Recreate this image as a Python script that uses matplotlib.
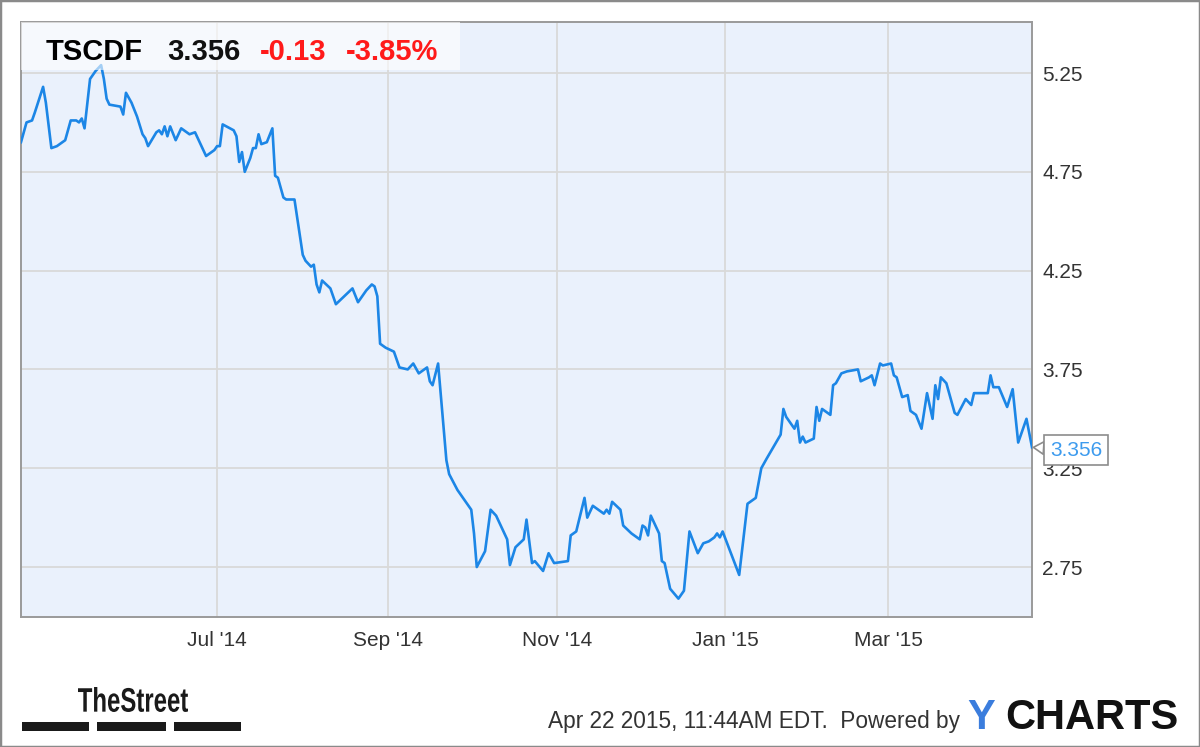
import matplotlib
matplotlib.use("Agg")
import matplotlib.pyplot as plt
import matplotlib.dates as mdates
import pandas as pd
from matplotlib.font_manager import FontProperties
from matplotlib.patches import PathPatch, Rectangle
from matplotlib.textpath import TextPath
from matplotlib.ticker import FuncFormatter
from matplotlib.transforms import Affine2D

# TSCDF daily close
dates = [
    "2014-04-21", "2014-04-23", "2014-04-25", "2014-04-26", "2014-04-29", "2014-04-30",
    "2014-05-02", "2014-05-04", "2014-05-07", "2014-05-09", "2014-05-11", "2014-05-12",
    "2014-05-13", "2014-05-14", "2014-05-16", "2014-05-18", "2014-05-20", "2014-05-21",
    "2014-05-22", "2014-05-23", "2014-05-27", "2014-05-28", "2014-05-29", "2014-05-31",
    "2014-06-02", "2014-06-04", "2014-06-05", "2014-06-06", "2014-06-09", "2014-06-10",
    "2014-06-11", "2014-06-12", "2014-06-13", "2014-06-14", "2014-06-16", "2014-06-18",
    "2014-06-21", "2014-06-23", "2014-06-25", "2014-06-27", "2014-06-30", "2014-07-01",
    "2014-07-02", "2014-07-03", "2014-07-07", "2014-07-08", "2014-07-09", "2014-07-10",
    "2014-07-11", "2014-07-13", "2014-07-14", "2014-07-15", "2014-07-16", "2014-07-17",
    "2014-07-19", "2014-07-21", "2014-07-22", "2014-07-23", "2014-07-25", "2014-07-26",
    "2014-07-29", "2014-08-01", "2014-08-02", "2014-08-04", "2014-08-05", "2014-08-06",
    "2014-08-07", "2014-08-08", "2014-08-11", "2014-08-13", "2014-08-16", "2014-08-19",
    "2014-08-21", "2014-08-24", "2014-08-26", "2014-08-27", "2014-08-28", "2014-08-29",
    "2014-08-31", "2014-09-03", "2014-09-05", "2014-09-08", "2014-09-10", "2014-09-12",
    "2014-09-15", "2014-09-16", "2014-09-17", "2014-09-19", "2014-09-22", "2014-09-23",
    "2014-09-26", "2014-09-29", "2014-10-01", "2014-10-02", "2014-10-03", "2014-10-06",
    "2014-10-08", "2014-10-10", "2014-10-13", "2014-10-14", "2014-10-15", "2014-10-17",
    "2014-10-20", "2014-10-21", "2014-10-23", "2014-10-24", "2014-10-27", "2014-10-29",
    "2014-10-31", "2014-11-05", "2014-11-06", "2014-11-08", "2014-11-11", "2014-11-12",
    "2014-11-14", "2014-11-17", "2014-11-18", "2014-11-19", "2014-11-20", "2014-11-21",
    "2014-11-24", "2014-11-25", "2014-11-28", "2014-12-01", "2014-12-02", "2014-12-03",
    "2014-12-04", "2014-12-05", "2014-12-08", "2014-12-09", "2014-12-10", "2014-12-12",
    "2014-12-15", "2014-12-17", "2014-12-19", "2014-12-22", "2014-12-24", "2014-12-26",
    "2014-12-28", "2014-12-29", "2014-12-30", "2014-12-31", "2015-01-06", "2015-01-09",
    "2015-01-12", "2015-01-14", "2015-01-16", "2015-01-21", "2015-01-22", "2015-01-23",
    "2015-01-26", "2015-01-27", "2015-01-28", "2015-01-29", "2015-01-30", "2015-02-02",
    "2015-02-03", "2015-02-04", "2015-02-05", "2015-02-08", "2015-02-09", "2015-02-10",
    "2015-02-12", "2015-02-14", "2015-02-18", "2015-02-19", "2015-02-22", "2015-02-23",
    "2015-02-24", "2015-02-26", "2015-02-27", "2015-03-02", "2015-03-03", "2015-03-04",
    "2015-03-06", "2015-03-08", "2015-03-09", "2015-03-11", "2015-03-13", "2015-03-15",
    "2015-03-17", "2015-03-18", "2015-03-19", "2015-03-20", "2015-03-22", "2015-03-25",
    "2015-03-26", "2015-03-29", "2015-03-31", "2015-04-01", "2015-04-06", "2015-04-07",
    "2015-04-08", "2015-04-10", "2015-04-13", "2015-04-15", "2015-04-17", "2015-04-20",
    "2015-04-22",
]
prices = [
    4.90, 5.00, 5.01, 5.05, 5.18, 5.10,
    4.87, 4.88, 4.91, 5.01, 5.01, 5.00,
    5.02, 4.97, 5.22, 5.26, 5.29, 5.22,
    5.12, 5.09, 5.08, 5.04, 5.15, 5.10,
    5.03, 4.94, 4.92, 4.88, 4.95, 4.96,
    4.94, 4.98, 4.93, 4.98, 4.91, 4.97,
    4.94, 4.95, 4.89, 4.83, 4.86, 4.88,
    4.88, 4.99, 4.96, 4.93, 4.80, 4.85,
    4.75, 4.82, 4.87, 4.87, 4.94, 4.89,
    4.90, 4.97, 4.73, 4.72, 4.62, 4.61,
    4.61, 4.33, 4.30, 4.27, 4.28, 4.18,
    4.14, 4.20, 4.16, 4.08, 4.12, 4.16,
    4.09, 4.15, 4.18, 4.17, 4.12, 3.88,
    3.86, 3.84, 3.76, 3.75, 3.78, 3.73,
    3.76, 3.69, 3.67, 3.78, 3.29, 3.22,
    3.14, 3.08, 3.04, 2.92, 2.75, 2.83,
    3.04, 3.01, 2.92, 2.89, 2.76, 2.85,
    2.89, 2.99, 2.77, 2.78, 2.73, 2.82,
    2.77, 2.78, 2.91, 2.93, 3.10, 3.00,
    3.06, 3.03, 3.02, 3.04, 3.02, 3.08,
    3.04, 2.96, 2.92, 2.89, 2.96, 2.95,
    2.91, 3.01, 2.92, 2.78, 2.77, 2.64,
    2.59, 2.63, 2.93, 2.82, 2.87, 2.88,
    2.90, 2.92, 2.90, 2.93, 2.71, 3.07,
    3.10, 3.25, 3.30, 3.42, 3.55, 3.51,
    3.45, 3.49, 3.38, 3.41, 3.38, 3.40,
    3.56, 3.49, 3.55, 3.52, 3.67, 3.68,
    3.73, 3.74, 3.75, 3.69, 3.71, 3.72,
    3.67, 3.78, 3.77, 3.78, 3.72, 3.71,
    3.61, 3.62, 3.54, 3.52, 3.45, 3.63,
    3.50, 3.67, 3.60, 3.71, 3.68, 3.53,
    3.52, 3.60, 3.57, 3.63, 3.63, 3.72,
    3.66, 3.66, 3.56, 3.65, 3.38, 3.50,
    3.356,
]
y_ticks = [2.75, 3.25, 3.75, 4.25, 4.75, 5.25]
x_ticks = ["2014-07-01", "2014-09-01", "2014-11-01", "2015-01-01", "2015-03-01"]

ticker = "TSCDF"
change = -0.13
change_pct = -3.85
stamp = "Apr 22 2015, 11:44AM EDT.  Powered by"

FONT = "Liberation Sans"
LINE = "#1c86e6"

x = pd.to_datetime(dates)

fig = plt.figure(figsize=(12, 7.47), dpi=100)
fig.patch.set_facecolor("white")
ax = fig.add_axes([0.0175, 0.174, 0.8425, 0.7965])
ax.set_facecolor("#eaf1fc")

ax.plot(x, prices, color=LINE, lw=1.9, solid_joinstyle="round", zorder=3)

ax.set_xlim(pd.Timestamp("2014-04-21"), pd.Timestamp("2015-04-22"))
ax.set_ylim(2.497, 5.508)
ax.set_xticks(pd.to_datetime(x_ticks))
ax.xaxis.set_major_formatter(FuncFormatter(lambda v, p: mdates.num2date(v).strftime("%b '%y")))
ax.set_yticks(y_ticks)
ax.yaxis.tick_right()
ax.tick_params(length=0, labelsize=15, labelcolor="#333333")
ax.tick_params(axis="x", pad=10)
ax.tick_params(axis="y", pad=7.5)
for lbl in ax.get_xticklabels() + ax.get_yticklabels():
    lbl.set_fontfamily(FONT)
ax.grid(True, color="#d9d9d9", lw=1.3, zorder=1)
for s in ax.spines.values():
    s.set_color("#9a9a9a")
    s.set_linewidth(1.4)

# header box with quote
ax.add_patch(Rectangle((0, 0.919), 0.434, 0.081, transform=ax.transAxes,
                       fc="white", ec="none", alpha=0.6, zorder=4))
hy = 0.936
ax.text(0.0247, hy, ticker, transform=ax.transAxes, fontsize=21, fontweight="bold",
        family=FONT, color="black", va="baseline", zorder=5)
ax.text(0.1444, hy, f"{prices[-1]:.3f}", transform=ax.transAxes, fontsize=21,
        fontweight="bold", family=FONT, color="#111111", va="baseline", zorder=5)
ax.text(0.236, hy, f"{change:.2f}", transform=ax.transAxes, fontsize=21,
        fontweight="bold", family=FONT, color="#ff1a1a", va="baseline", zorder=5)
ax.text(0.321, hy, f"{change_pct:.2f}%", transform=ax.transAxes, fontsize=21,
        fontweight="bold", family=FONT, color="#ff1a1a", va="baseline", zorder=5)

# last value callout
ax.annotate(f"{prices[-1]:.3f}", xy=(x[-1], prices[-1]), xytext=(13, -2),
            textcoords="offset points", ha="left", va="center", fontsize=15,
            family=FONT, color="#3d9bee", annotation_clip=False, zorder=6,
            bbox=dict(boxstyle="square,pad=0.28", fc="white", ec="#8c8c8c", lw=1.2),
            arrowprops=dict(arrowstyle="wedge,tail_width=0.6", fc="white",
                            ec="#8c8c8c", lw=1.2, shrinkA=0, shrinkB=1))

# footer: condensed "TheStreet" logo squeezed into its box (pixels)
tp = TextPath((0, 0), "TheStreet", size=40, prop=FontProperties(family=FONT, weight="bold"))
ext = tp.get_extents()
sx = 110 / ext.width
sy = 25 / ext.height
logo_tf = Affine2D().translate(-ext.x0, -ext.y0).scale(sx, sy).translate(78, 747 - 712)
fig.patches.append(PathPatch(tp, transform=logo_tf, fc="#1a1a1a", ec="none"))
for x0, x1 in [(22, 89), (97, 166), (174, 241)]:
    fig.patches.append(Rectangle((x0 / 1200, 0.021), (x1 - x0) / 1200, 0.012,
                                 transform=fig.transFigure, fc="#1a1a1a", ec="none"))
fig.text(0.4565, 0.026, stamp, fontsize=16.3, family=FONT, color="#333333", va="baseline")
fig.text(0.806, 0.0235, "Y", fontsize=30, fontweight="bold", family=FONT,
         color="#3b7ddd", va="baseline")
fig.text(0.8375, 0.0235, "CHARTS", fontsize=30, fontweight="bold", family=FONT,
         color="#111111", va="baseline")

fig.patches.append(Rectangle((0, 0), 1, 1, transform=fig.transFigure, fill=False,
                             ec="#8a8a8a", lw=2.5))

fig.savefig("out.png", dpi=100)
